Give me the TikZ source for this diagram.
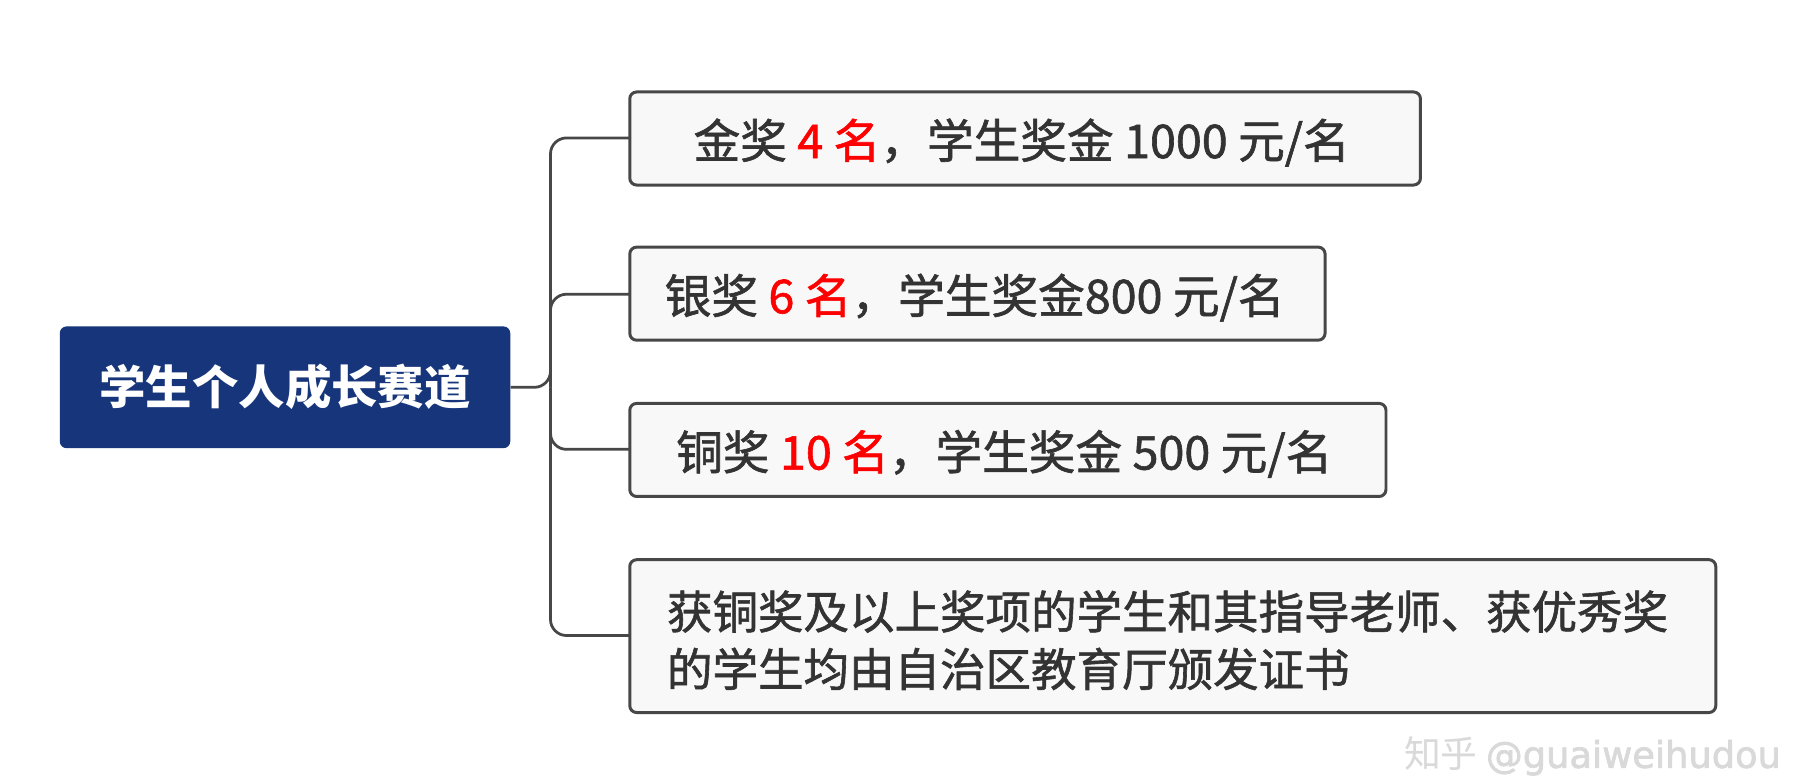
\documentclass[tikz,border=0pt]{standalone}
\usepackage{fontspec}
\setmainfont{Noto Sans CJK SC}
\newfontfamily\medf{Noto Sans CJK SC}[FakeBold=1.3]
\newfontfamily\wm{DejaVu Sans}[FakeBold=2]
\definecolor{rootc}{HTML}{17357A}
\definecolor{txt}{HTML}{333333}
\definecolor{brd}{HTML}{474747}
\definecolor{boxf}{HTML}{F8F8F8}
\tikzset{
 leaf/.style={draw=brd,fill=boxf,line width=1.3pt,rounded corners=3pt},
 conn/.style={draw=brd,line width=1.2pt,rounded corners=7pt},
 lt/.style={font=\medf\fontsize{20.3}{25}\selectfont,text=txt,inner sep=0pt},
}
\newcommand{\rn}[1]{\textcolor{red}{#1}}
\begin{document}
\begin{tikzpicture}[x=0.5pt,y=-0.5pt]
\useasboundingbox (0,0) rectangle (1568,676);
\fill[white] (0,0) rectangle (1568,676);
\node[fill=rootc,rounded corners=3pt,minimum width=196pt,minimum height=53pt,inner sep=0pt,text=white,font=\fontsize{20.2}{22}\selectfont\bfseries] (root) at (248,337) {学生个人成长赛道};
\draw[leaf] (548,80) rectangle (1236,161) coordinate (b1c);
\draw[leaf] (548,215) rectangle (1153,296);
\draw[leaf] (548,351) rectangle (1206,432);
\draw[leaf] (548,487) rectangle (1493,620);
\coordinate (l1) at (548,120);
\coordinate (l2) at (548,256);
\coordinate (l3) at (548,391);
\coordinate (l4) at (548,553);
\node[lt] (t1) at (889,124) {金奖 \rn{4 名}，学生奖金 1000 元/名};
\node[lt,anchor=west] (t2) at (578,259) {银奖 \rn{6 名}，学生奖金800 元/名};
\node[lt,anchor=west] (t3) at (588,395) {铜奖 \rn{10 名}，学生奖金 500 元/名};
\node[lt,anchor=west,align=left,font=\medf\fontsize{19.8}{25}\selectfont] (t4) at (580,557) {获铜奖及以上奖项的学生和其指导老师、获优秀奖\\的学生均由自治区教育厅颁发证书};
\draw[conn] (root.east) -- (479,337) |- (l1);
\draw[conn] (479,337) |- (l2);
\draw[conn] (479,337) |- (l3);
\draw[conn] (479,337) |- (l4);
\node[text=black!15,font=\fontsize{16}{18}\selectfont,anchor=east,inner sep=0pt] (wm) at (1550,658) {知乎 {\wm @guaiweihudou}};
\end{tikzpicture}
\end{document}
